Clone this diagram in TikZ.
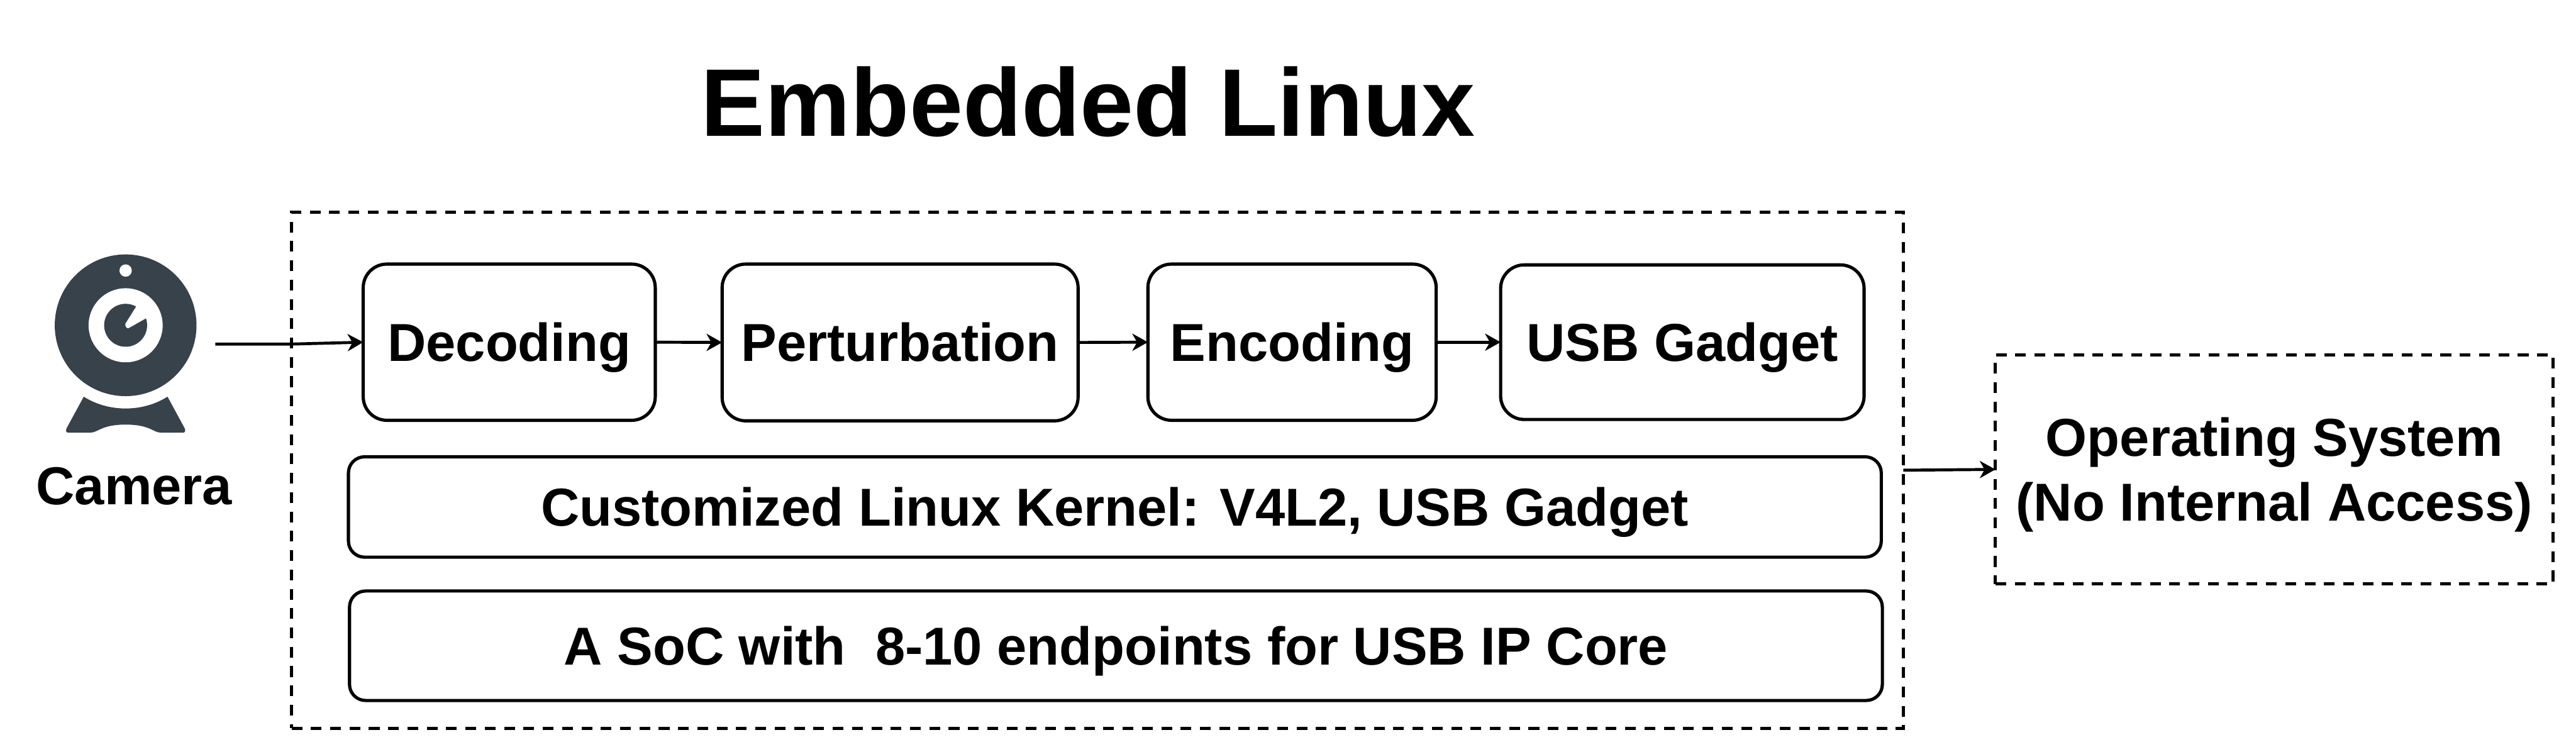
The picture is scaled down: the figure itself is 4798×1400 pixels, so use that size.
\documentclass[tikz,border=0pt]{standalone}
\usepackage{fontspec}
\setmainfont{Liberation Sans}
\usetikzlibrary{arrows.meta}
\definecolor{camdark}{HTML}{37424B}
\tikzset{
  base/.style={rectangle,inner sep=0pt,outer sep=0pt,align=center,text=black,
    font=\fontsize{99.5}{120}\selectfont\bfseries,text height=71pt,text depth=0pt},
  solidbox/.style={base,draw=black,line width=6pt},
  bigr/.style={solidbox,rounded corners=44pt},
  smallr/.style={solidbox,rounded corners=30pt},
  dashbox/.style={base,draw=black,line width=6pt,dash pattern=on 20pt off 16pt},
  label/.style={base},
  conn/.style={draw=black,line width=5.5pt,-{Stealth[length=29pt,width=32pt,inset=9pt]}},
}
\begin{document}
\begin{tikzpicture}[x=1pt,y=-1pt]
\fill[white] (0,0) rectangle (4798,1400);
\useasboundingbox (0,0) rectangle (4798,1400);

% title
\node[label,font=\fontsize{179}{200}\selectfont\bfseries,text height=129pt] (title) at (2027,189.5) {Embedded Linux};

% containers
\node[dashbox,minimum width=3002pt,minimum height=962pt] (outer) at (2044,876) {};
\node[dashbox,minimum width=1039pt,minimum height=427pt,text height=191pt] (os) at (4236,874.5)
  {Operating System\\(No Internal Access)};

% pipeline
\node[bigr,minimum width=544pt,minimum height=291pt] (dec) at (948.5,637.5) {Decoding};
\node[bigr,minimum width=663pt,minimum height=292pt] (per) at (1676.5,638) {Perturbation};
\node[bigr,minimum width=537pt,minimum height=291pt] (enc) at (2406.5,637.5) {Encoding};
\node[bigr,minimum width=677pt,minimum height=288pt] (usb) at (3133.5,637.5) {USB Gadget};

% layers
\node[smallr,minimum width=2855pt,minimum height=187pt] (kernel) at (2076.5,944.5) {Customized Linux Kernel: V4L2, USB Gadget};
\node[smallr,minimum width=2855pt,minimum height=204pt] (soc) at (2078.5,1203) {A SoC with\ \ 8-10 endpoints for USB IP Core};

% camera icon
\fill[camdark] (234,606) circle[radius=132];
\fill[white] (234,504) circle[radius=11.5];
\fill[white] (234,606) circle[radius=69];
\fill[camdark] (234,606) circle[radius=40];
\fill[white] (260,561) -- (233.7,602.8) .. controls (232,608) and (237,613) .. (239.8,611.2) -- (283,586.7) -- cycle;
\fill[camdark] (156,739) .. controls (178,753) and (205,761) .. (234,761)
  .. controls (263,761) and (290,753) .. (312,739) -- (344,798)
  .. controls (346,802) and (345,806) .. (341,806) -- (300,806)
  .. controls (285,806) and (280,791) .. (234,791)
  .. controls (188,791) and (183,806) .. (168,806) -- (127,806)
  .. controls (123,806) and (122,802) .. (124,798) -- cycle;
\node[label] (cam) at (250,904) {Camera};

% connectors
\coordinate (camout) at (401,641);
\draw[conn] (camout) -- (outer.west |- camout) -- (dec.west);
\draw[conn] (dec.east) -- (per.west);
\draw[conn] (per.east) -- (enc.west);
\draw[conn] (enc.east) -- (usb.west);
\draw[conn] (outer.east) -- (os.west);
\end{tikzpicture}
\end{document}
